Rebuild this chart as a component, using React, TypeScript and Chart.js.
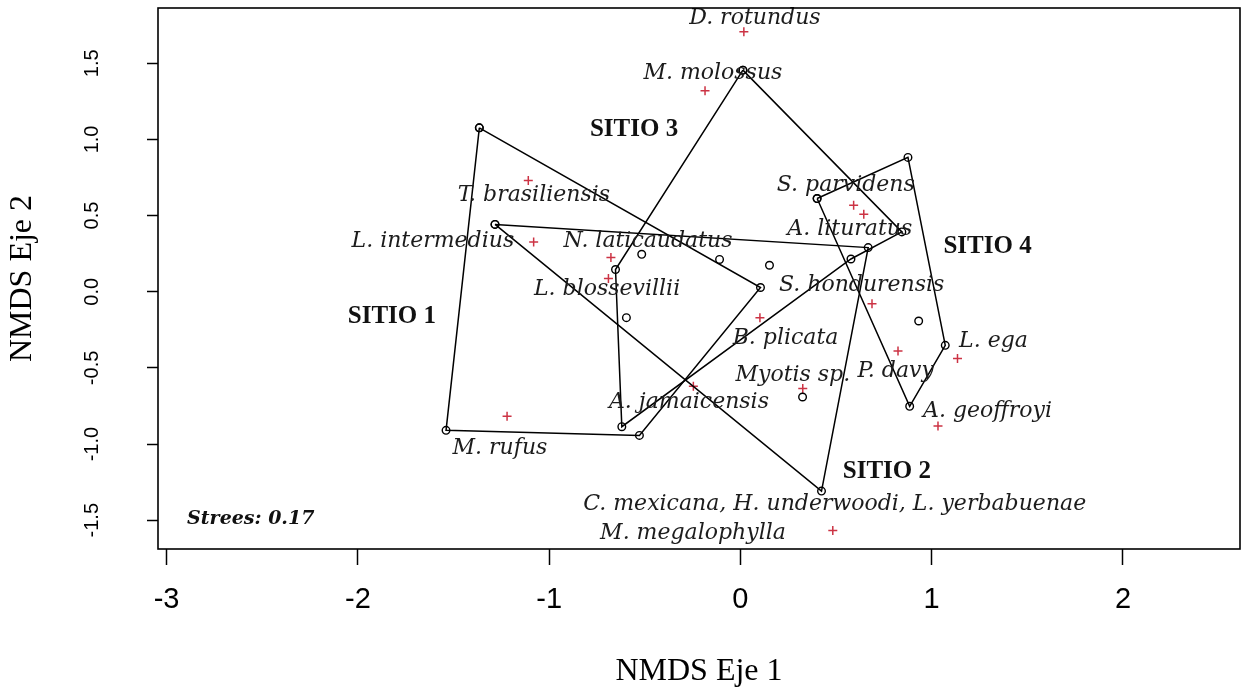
import React, { useEffect, useRef } from 'react';
import { Chart, registerables } from 'chart.js';

Chart.register(...registerables);

// Axis extents and tick marks
const X_MIN = -3.045;
const X_MAX = 2.612;
const Y_MIN = -1.689;
const Y_MAX = 1.863;
const X_TICKS = [-3, -2, -1, 0, 1, 2];
const Y_TICKS = [-1.5, -1.0, -0.5, 0.0, 0.5, 1.0, 1.5];

// Site hulls: vertices of each convex hull, in drawing order
const HULL1_X = [-1.365, 0.105, -0.528, -1.539];
const HULL1_Y = [1.076, 0.028, -0.943, -0.91];
const HULL2_X = [-1.283, 0.668, 0.424];
const HULL2_Y = [0.442, 0.29, -1.309];
const HULL3_X = [0.013, 0.844, 0.578, -0.62, -0.653];
const HULL3_Y = [1.455, 0.393, 0.215, -0.886, 0.146];
const HULL4_X = [0.401, 0.876, 1.071, 0.885];
const HULL4_Y = [0.612, 0.882, -0.352, -0.752];

// Samples lying inside the hulls
const INNER_X = [-0.109, -0.596, 0.152, 0.325, -0.516, 0.932];
const INNER_Y = [0.212, -0.17, 0.174, -0.691, 0.246, -0.192];

// Site names and where they are written
const SITE_NAMES = ['SITIO 1', 'SITIO 2', 'SITIO 3', 'SITIO 4'];
const SITE_LABEL_X = [-1.822, 0.766, -0.556, 1.292];
const SITE_LABEL_Y = [-0.161, -1.179, 1.068, 0.299];

// Species scores
const SPECIES_X = [0.018, -0.185, -1.109, -1.081, -0.677, -0.69, 0.592, 0.645, 0.688, 0.102, 0.824, 1.135, 0.326, -0.246, 1.033, -1.22, 0.483];
const SPECIES_Y = [1.707, 1.319, 0.731, 0.327, 0.225, 0.087, 0.568, 0.509, -0.078, -0.17, -0.389, -0.439, -0.636, -0.621, -0.882, -0.818, -1.567];

// Species names and where they are written
const SPECIES_NAMES = [
  'D. rotundus',
  'M. molossus',
  'T. brasiliensis',
  'L. intermedius',
  'N. laticaudatus',
  'L. blossevillii',
  'S. parvidens',
  'A. lituratus',
  'S. hondurensis',
  'B. plicata',
  'L. ega',
  'Myotis sp.',
  'P. davy',
  'A. jamaicensis',
  'A. geoffroyi',
  'M. rufus',
  'C. mexicana, H. underwoodi, L. yerbabuenae',
  'M. megalophylla',
];
const NAME_X = [0.076, -0.144, -1.08, -1.608, -0.483, -0.697, 0.551, 0.572, 0.634, 0.236, 1.323, 0.274, 0.812, -0.269, 1.292, -1.257, 0.493, -0.248];
const NAME_Y = [1.795, 1.436, 0.634, 0.334, 0.332, 0.016, 0.7, 0.411, 0.043, -0.306, -0.325, -0.549, -0.522, -0.723, -0.788, -1.026, -1.393, -1.587];

const STRESS_TEXT = 'Strees: 0.17';
const STRESS_X = -2.56;
const STRESS_Y = -1.491;

const toPoints = (xs: number[], ys: number[]) => xs.map((x, i) => ({ x, y: ys[i] }));
const closed = (xs: number[], ys: number[]) => {
  const pts = toPoints(xs, ys);
  return [...pts, pts[0]];
};

const hullDataset = (label: string, xs: number[], ys: number[]) => ({
  label,
  data: closed(xs, ys),
  showLine: true,
  borderColor: '#000',
  borderWidth: 1.5,
  tension: 0,
  fill: false,
  pointStyle: 'circle',
  pointRadius: 3.8,
  pointBackgroundColor: 'rgba(0,0,0,0)',
  pointBorderColor: '#000',
  pointBorderWidth: 1.4,
});

const annotations = {
  id: 'nmdsAnnotations',
  afterDatasetsDraw(chart: any) {
    const { ctx, scales } = chart;
    const sx = scales.x;
    const sy = scales.y;
    ctx.save();
    ctx.textAlign = 'center';
    ctx.textBaseline = 'middle';

    ctx.fillStyle = '#1c1c1c';
    ctx.font = 'italic 22px "DejaVu Serif"';
    SPECIES_NAMES.forEach((name, i) => {
      ctx.fillText(name, sx.getPixelForValue(NAME_X[i]), sy.getPixelForValue(NAME_Y[i]));
    });

    ctx.fillStyle = '#111';
    ctx.font = 'bold 25px "Liberation Serif"';
    SITE_NAMES.forEach((name, i) => {
      ctx.fillText(name, sx.getPixelForValue(SITE_LABEL_X[i]), sy.getPixelForValue(SITE_LABEL_Y[i]));
    });

    ctx.font = 'italic bold 19px "DejaVu Serif"';
    ctx.fillText(STRESS_TEXT, sx.getPixelForValue(STRESS_X), sy.getPixelForValue(STRESS_Y));
    ctx.restore();
  },
  afterDraw(chart: any) {
    const { ctx, chartArea } = chart;
    ctx.save();
    ctx.strokeStyle = '#000';
    ctx.lineWidth = 1.6;
    ctx.strokeRect(chartArea.left, chartArea.top, chartArea.right - chartArea.left, chartArea.bottom - chartArea.top);
    ctx.restore();
  },
};

export default function App() {
  const canvasRef = useRef<HTMLCanvasElement>(null);

  useEffect(() => {
    const canvas = canvasRef.current;
    if (!canvas) return;
    const chart = new Chart(canvas, {
      type: 'scatter',
      data: {
        datasets: [
          hullDataset('SITIO 1', HULL1_X, HULL1_Y),
          hullDataset('SITIO 2', HULL2_X, HULL2_Y),
          hullDataset('SITIO 3', HULL3_X, HULL3_Y),
          hullDataset('SITIO 4', HULL4_X, HULL4_Y),
          {
            label: 'muestras',
            data: toPoints(INNER_X, INNER_Y),
            showLine: false,
            pointStyle: 'circle',
            pointRadius: 3.8,
            pointBackgroundColor: 'rgba(0,0,0,0)',
            pointBorderColor: '#000',
            pointBorderWidth: 1.4,
          },
          {
            label: 'especies',
            data: toPoints(SPECIES_X, SPECIES_Y),
            showLine: false,
            pointStyle: 'cross',
            pointRadius: 4.5,
            pointBorderColor: '#cc3344',
            pointBorderWidth: 1.5,
          },
        ] as any,
      },
      options: {
        animation: false,
        responsive: false,
        maintainAspectRatio: false,
        layout: { padding: { top: 8, right: 0, left: 0, bottom: 0 } },
        plugins: { legend: { display: false }, tooltip: { enabled: false } },
        scales: {
          x: {
            type: 'linear',
            min: X_MIN,
            max: X_MAX,
            afterFit: (s: any) => {
              s.height = 140;
              s.paddingLeft = 0;
              s.paddingRight = 0;
            },
            afterBuildTicks: (s: any) => {
              s.ticks = X_TICKS.map((v) => ({ value: v }));
            },
            grid: { drawOnChartArea: false, drawTicks: true, tickLength: 16, tickWidth: 1.5, tickColor: '#000' },
            border: { display: false },
            ticks: {
              color: '#000',
              font: { family: '"Liberation Sans"', size: 29 },
              padding: 18,
              maxRotation: 0,
              autoSkip: false,
              callback: (v: any) => `${v}`,
            },
            title: {
              display: true,
              text: 'NMDS Eje 1',
              color: '#000',
              font: { family: '"Liberation Serif"', size: 32, lineHeight: 1 },
              padding: { top: 0, bottom: 1 },
            },
          },
          y: {
            type: 'linear',
            min: Y_MIN,
            max: Y_MAX,
            afterFit: (s: any) => {
              s.width = 158;
              s.paddingTop = 0;
              s.paddingBottom = 0;
            },
            afterBuildTicks: (s: any) => {
              s.ticks = Y_TICKS.map((v) => ({ value: v }));
            },
            grid: { drawOnChartArea: false, drawTicks: true, tickLength: 11, tickWidth: 1.5, tickColor: '#000' },
            border: { display: false },
            ticks: {
              color: '#000',
              font: { family: '"Liberation Sans"', size: 20 },
              minRotation: 90,
              maxRotation: 90,
              crossAlign: 'center',
              padding: 37,
              autoSkip: false,
              callback: (v: any) => Number(v).toFixed(1),
            },
            title: {
              display: true,
              text: 'NMDS Eje 2',
              color: '#000',
              font: { family: '"Liberation Serif"', size: 32, lineHeight: 1 },
              padding: { top: 7, bottom: 0 },
            },
          },
        },
      } as any,
      plugins: [annotations],
    });
    return () => chart.destroy();
  }, []);

  return (
    <div style={{ position: 'fixed', left: 0, top: 0, width: 1246, height: 689, background: '#fff' }}>
      <canvas ref={canvasRef} width={1246} height={689} style={{ display: 'block', width: 1246, height: 689 }} />
    </div>
  );
}
